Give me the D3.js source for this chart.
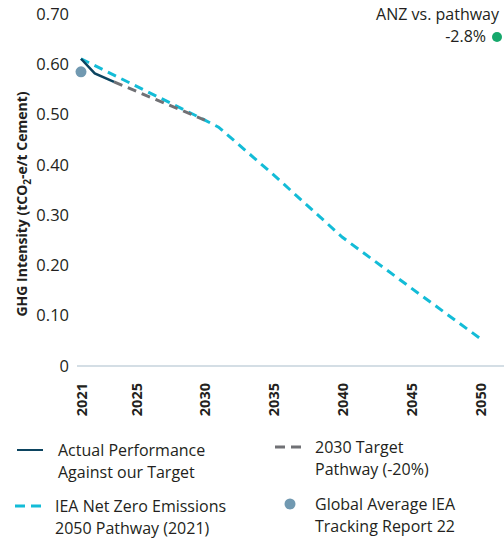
<!DOCTYPE html>
<html>
<head>
<meta charset="utf-8">
<script src="https://cdn.jsdelivr.net/npm/d3@7"></script>
<style>
  html, body { margin: 0; padding: 0; background: #fff; }
  svg { display: block; font-family: "Open Sans", "Noto Sans", sans-serif; }
</style>
</head>
<body>
<svg id="chart" width="504" height="541"></svg>
<script>
// GHG intensity of cement, tCO2-e per tonne
const tickYears = [2021, 2025, 2030, 2035, 2040, 2045, 2050];
const yTicks = [0, 0.1, 0.2, 0.3, 0.4, 0.5, 0.6, 0.7];

const actualYears = [2021, 2022, 2023.4];
const actualValues = [0.611, 0.582, 0.565];

const targetYears = [2023.4, 2030];
const targetValues = [0.565, 0.489];

const ieaYears = [2021, 2030, 2031, 2035, 2040, 2045, 2050];
const ieaValues = [0.611, 0.489, 0.475, 0.380, 0.256, 0.155, 0.055];

const globalAvgYear = 2021;
const globalAvgValue = 0.585;

const gapLabel = "-2.8%";

const colors = {
  actual: "#0c4460",
  target: "#707175",
  iea: "#13bcd7",
  global: "#7199b1",
  gap: "#16a86c",
  axis: "#aabdcc",
  text: "#231f20"
};

const svg = d3.select("#chart");

const x = d3.scaleLinear().domain([2021, 2050]).range([81, 480]);
const y = d3.scaleLinear().domain([0, 0.7]).range([366, 14]);

// baseline
svg.append("line")
  .attr("x1", 77).attr("x2", 504)
  .attr("y1", y(0)).attr("y2", y(0))
  .attr("stroke", colors.axis).attr("stroke-width", 1.2);

// y axis labels
const yAxis = svg.append("g")
  .attr("transform", "translate(77,0)")
  .call(d3.axisLeft(y).tickValues(yTicks).tickSize(0).tickPadding(8)
    .tickFormat(d => d === 0 ? "0" : d3.format(".2f")(d)));
yAxis.select(".domain").remove();
yAxis.selectAll("text")
  .attr("font-family", "'Open Sans', sans-serif")
  .attr("font-size", 16.5).attr("fill", colors.text);

// x axis labels, rotated
const xAxis = svg.append("g")
  .attr("transform", `translate(0,${y(0)})`)
  .call(d3.axisBottom(x).tickValues(tickYears).tickSize(0).tickFormat(d3.format("d")));
xAxis.select(".domain").remove();
xAxis.selectAll("text")
  .attr("font-family", "'Open Sans', sans-serif")
  .attr("font-size", 14.5).attr("font-weight", 700).attr("fill", colors.text)
  .attr("transform", "rotate(-90)")
  .attr("text-anchor", "end")
  .attr("x", -17).attr("y", 0).attr("dy", "0.35em");

// y axis title
const title = svg.append("text")
  .attr("transform", "translate(27,204) rotate(-90)")
  .attr("text-anchor", "middle")
  .attr("font-size", 14).attr("font-weight", 700).attr("fill", colors.text);
title.append("tspan").text("GHG Intensity (tCO");
title.append("tspan").attr("font-size", 10).attr("dy", 4).text("2");
title.append("tspan").attr("dy", -4).text("-e/t Cement)");

const line = d3.line().x(d => x(d[0])).y(d => y(d[1]));

// IEA net zero pathway
svg.append("path")
  .datum(d3.zip(ieaYears, ieaValues))
  .attr("d", line)
  .attr("fill", "none").attr("stroke", colors.iea)
  .attr("stroke-width", 3).attr("stroke-dasharray", "9,6");

// 2030 target pathway
svg.append("path")
  .datum(d3.zip(targetYears, targetValues))
  .attr("d", line)
  .attr("fill", "none").attr("stroke", colors.target)
  .attr("stroke-width", 3).attr("stroke-dasharray", "9,6");

// actual performance
svg.append("path")
  .datum(d3.zip(actualYears, actualValues))
  .attr("d", line)
  .attr("fill", "none").attr("stroke", colors.actual)
  .attr("stroke-width", 2.5);

// global average point
svg.append("circle")
  .attr("cx", x(globalAvgYear)).attr("cy", y(globalAvgValue))
  .attr("r", 5.5).attr("fill", colors.global);

// gap annotation
svg.append("text")
  .attr("x", 499).attr("y", 20).attr("text-anchor", "end")
  .attr("font-size", 16).attr("fill", colors.text)
  .text("ANZ vs. pathway");
svg.append("text")
  .attr("x", 486).attr("y", 42).attr("text-anchor", "end")
  .attr("font-size", 16).attr("fill", colors.text)
  .text(gapLabel);
svg.append("circle")
  .attr("cx", 497).attr("cy", 37).attr("r", 5).attr("fill", colors.gap);

// legend
const legendItems = [
  { key: "actual", type: "solid", lines: ["Actual Performance", "Against our Target"], mx: 17, tx: 58, ty: 450 },
  { key: "target", type: "dash", lines: ["2030 Target", "Pathway (-20%)"], mx: 275, tx: 315, ty: 447 },
  { key: "iea", type: "dash", lines: ["IEA Net Zero Emissions", "2050 Pathway (2021)"], mx: 15, tx: 55, ty: 506 },
  { key: "global", type: "dot", lines: ["Global Average IEA", "Tracking Report 22"], mx: 290, tx: 315, ty: 504 }
];
const legendLineGap = 22;

const legend = svg.append("g");
legendItems.forEach(item => {
  const g = legend.append("g");
  if (item.type === "solid") {
    g.append("line").attr("x1", item.mx).attr("x2", item.mx + 26)
      .attr("y1", item.ty).attr("y2", item.ty)
      .attr("stroke", colors[item.key]).attr("stroke-width", 2);
  } else if (item.type === "dash") {
    g.append("line").attr("x1", item.mx).attr("x2", item.mx + 26)
      .attr("y1", item.ty).attr("y2", item.ty)
      .attr("stroke", colors[item.key]).attr("stroke-width", 3)
      .attr("stroke-dasharray", "10,6");
  } else {
    g.append("circle").attr("cx", item.mx).attr("cy", item.ty)
      .attr("r", 5.5).attr("fill", colors[item.key]);
  }
  item.lines.forEach((s, i) => {
    g.append("text")
      .attr("font-size", 16).attr("fill", colors.text)
      .attr("x", item.tx).attr("y", item.ty + i * legendLineGap)
      .attr("dy", "0.35em").text(s);
  });
});
</script>
</body>
</html>
